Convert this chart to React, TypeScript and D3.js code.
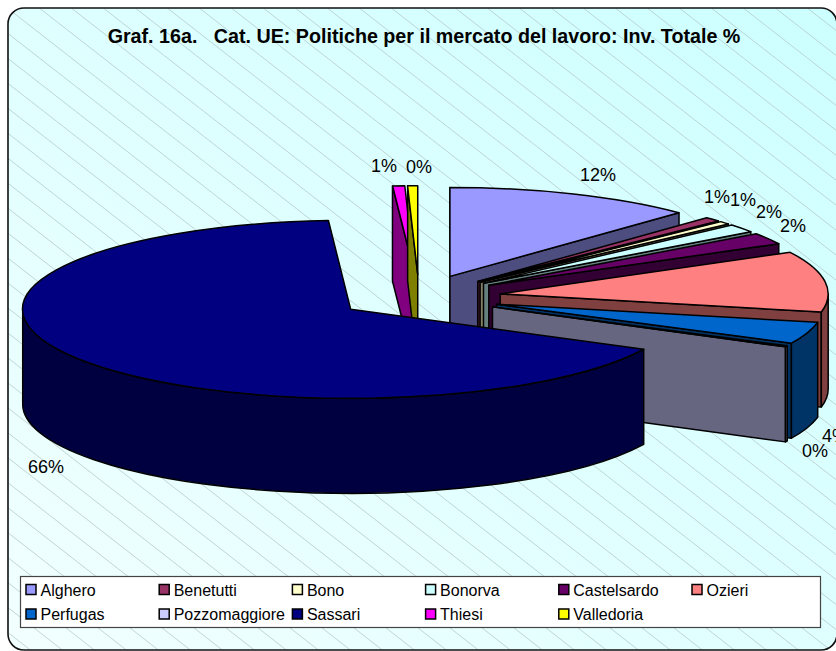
import React from "react";
import * as d3 from "d3";

const TITLE = "Graf. 16a.   Cat. UE: Politiche per il mercato del lavoro: Inv. Totale %";
const categories = ["Alghero","Benetutti","Bono","Bonorva","Castelsardo","Ozieri","Perfugas","Pozzomaggiore","Sassari","Thiesi","Valledoria"];
const values = [12.3,0.8,0.55,1.5,2.1,11.0,3.95,0.2,66.45,0.6,0.49];
const colors = ["#9999FF","#993366","#FFFFCC","#CCFFFF","#660066","#FF8080","#0066CC","#CCCCFF","#000080","#FF00FF","#FFFF00"];
const labelText = ["12%","1%","1%","2%","2%","","4%","0%","66%","1%","0%"];
const labelAnchor: [number, number][] = [[598,181],[717,203],[743,206],[769,218],[793,232],[0,0],[822,442],[815,457],[46,473],[384,172],[419,173]];

const W = 836, H = 651;
const cx = 419, cy = 297, rx = 328, ry = 89, depth = 95, explode = 0.25;
const drawOrder = [0,1,2,3,4,5,6,7,9,10,8];

const pie = d3.pie<number>().sort(null).startAngle(0).endAngle(2 * Math.PI);
const arcs = pie(values);
const sector = d3.arc<any>().innerRadius(0).outerRadius(1);

function Slice({ i }: { i: number }) {
  const a = arcs[i];
  const mid = (a.startAngle + a.endAngle) / 2;
  const ax = cx + explode * rx * Math.sin(mid);
  const ay = cy - explode * ry * Math.cos(mid);
  const pt = (t: number, z = 0): [number, number] => [ax + rx * Math.sin(t), ay - ry * Math.cos(t) + z];
  const side = d3.rgb(colors[i]);
  const dark = d3.rgb(side.r * 0.5, side.g * 0.5, side.b * 0.5).formatHex();
  const face = (t: number) => {
    const [x, y] = pt(t);
    return `M${ax},${ay}L${x},${y}L${x},${y + depth}L${ax},${ay + depth}Z`;
  };
  const lo = Math.max(a.startAngle, Math.PI / 2);
  const hi = Math.min(a.endAngle, (3 * Math.PI) / 2);
  let wall = "";
  if (hi > lo) {
    const p0 = pt(lo), p1 = pt(hi), q1 = pt(hi, depth), q0 = pt(lo, depth);
    const large = hi - lo > Math.PI ? 1 : 0;
    wall = `M${p0}A${rx},${ry} 0 ${large} 1 ${p1}L${q1}A${rx},${ry} 0 ${large} 0 ${q0}Z`;
  }
  const common = { stroke: "#000", strokeWidth: 1.5, strokeLinejoin: "round" as const };
  return (
    <g>
      {Math.sin(a.startAngle) < 0 || a.startAngle === 0 ? <path d={face(a.startAngle)} fill={dark} {...common} /> : null}
      {Math.sin(a.endAngle) > 0 ? <path d={face(a.endAngle)} fill={dark} {...common} /> : null}
      {wall ? <path d={wall} fill={dark} {...common} /> : null}
      <path
        d={sector(a) as string}
        transform={`translate(${ax},${ay}) scale(${rx},${ry})`}
        fill={colors[i]}
        vectorEffect="non-scaling-stroke"
        {...common}
      />
    </g>
  );
}

function hatch() {
  const out: string[] = [];
  for (let k = -30; k < 30; k++) {
    const x0 = 29 + k * 32;
    out.push(`M${x0},0L${x0 + 1100},${1100 * 0.78}`);
  }
  return out.join("");
}

export default function App() {
  const colX = d3.range(6).map((c) => 26 + c * 133.2);
  return (
    <svg width={W} height={H} style={{ position: "absolute", left: 0, top: 0, fontFamily: "'Liberation Sans', Arial, sans-serif" }}>
      <defs>
        <linearGradient id="bg" x1="0" y1="1" x2="1" y2="0">
          <stop offset="0" stopColor="#F2FFFF" />
          <stop offset="1" stopColor="#CCFFFF" />
        </linearGradient>
        <clipPath id="frame"><rect x={8} y={8} width={829} height={642} rx={16} /></clipPath>
      </defs>
      <rect x={8} y={8} width={829} height={642} rx={16} fill="url(#bg)" />
      <path d={hatch()} clipPath="url(#frame)" stroke="#B2C2C2" strokeWidth={0.7} fill="none" />
      <rect x={8} y={8} width={829} height={642} rx={16} fill="none" stroke="#111" strokeWidth={1.6} />
      <text x={424} y={43} textAnchor="middle" fontWeight="bold" fontSize={19.7} xmlSpace="preserve" style={{ whiteSpace: "pre" }} fill="#000">{TITLE}</text>
      {drawOrder.map((i) => <Slice key={i} i={i} />)}
      {labelText.map((t, i) => t ? (
        <text key={i} x={labelAnchor[i][0]} y={labelAnchor[i][1]} textAnchor={i === 6 ? "start" : "middle"} fontSize={18} fill="#000">{t}</text>
      ) : null)}
      <rect x={20.5} y={576.5} width={800} height={51} fill="#fff" stroke="#444" strokeWidth={1.2} />
      {categories.map((c, i) => {
        const col = i % 6, row = Math.floor(i / 6);
        const y = 589.5 + row * 24.5;
        return (
          <g key={c}>
            <rect x={colX[col]} y={y - 5} width={10} height={10} fill={colors[i]} stroke="#000" strokeWidth={1.5} />
            <text x={colX[col] + 14.5} y={y + 6} fontSize={16} fill="#000">{c}</text>
          </g>
        );
      })}
    </svg>
  );
}
